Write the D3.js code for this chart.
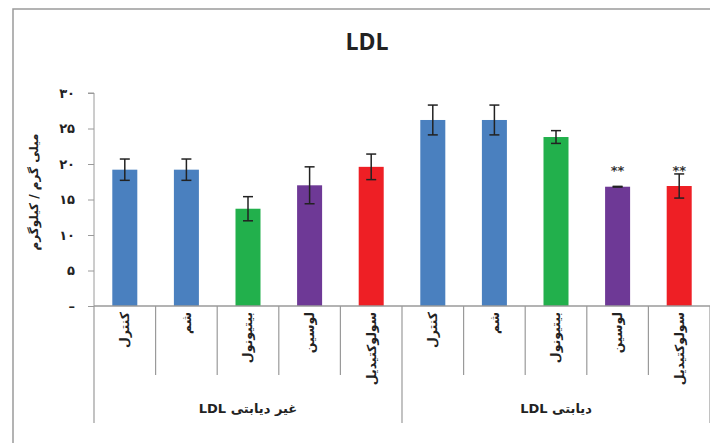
<!DOCTYPE html>
<html>
<head>
<meta charset="utf-8">
<script src="https://cdn.jsdelivr.net/npm/d3@7"></script>
<style>
  body { margin: 0; background: #fff; }
  svg { display: block; }
</style>
</head>
<body>
<div id="chart"></div>
<script>
// data
var categories = ["کنترل", "شم", "بیتیونول", "لوسین", "سولوکتیدیل",
                  "کنترل", "شم", "بیتیونول", "لوسین", "سولوکتیدیل"];
var groups = ["غیر دیابتی LDL", "دیابتی LDL"];
var values = [19.2, 19.2, 13.7, 17.0, 19.6, 26.2, 26.2, 23.8, 16.8, 16.9];
var errors = [1.5, 1.5, 1.7, 2.6, 1.8, 2.1, 2.1, 0.9, 0.05, 1.7];
var stars = ["", "", "", "", "", "", "", "", "**", "**"];
var colors = ["#4a80bf", "#4a80bf", "#22b04c", "#6e3996", "#ee1f25",
              "#4a80bf", "#4a80bf", "#22b04c", "#6e3996", "#ee1f25"];
var yTicks = [0, 5, 10, 15, 20, 25, 30];
var yTickLabels = ["–", "۵", "۱۰", "۱۵", "۲۰", "۲۵", "۳۰"];
var starLevel = 19.4;

var W = 710, H = 443;
var svg = d3.select("#chart").append("svg")
    .attr("width", W).attr("height", H);

// chart frame
svg.append("rect")
    .attr("x", 13).attr("y", 9)
    .attr("width", W).attr("height", H)
    .attr("fill", "none")
    .attr("stroke", "#9a9a9a")
    .attr("stroke-width", 1.5);

var plotLeft = 94, plotRight = 710, plotTop = 93, base = 306;

var x = d3.scaleBand()
    .domain(d3.range(values.length))
    .range([plotLeft, plotRight])
    .paddingInner(0.594)
    .paddingOuter(0.297);

var y = d3.scaleLinear().domain([0, 30]).range([base, plotTop]);

// title
svg.append("text")
    .attr("x", 367).attr("y", 50)
    .attr("text-anchor", "middle")
    .style("font-family", "Open Sans")
    .style("font-weight", "bold")
    .style("font-size", "23px")
    .attr("fill", "#222")
    .text("LDL");

// y axis
var yAxis = svg.append("g")
    .attr("transform", "translate(" + plotLeft + ",0)")
    .call(d3.axisLeft(y).tickValues(yTicks).tickSize(6).tickPadding(13)
        .tickFormat(function(d, i) { return yTickLabels[i]; }));
yAxis.select(".domain").attr("stroke", "#9a9a9a").attr("d", "M-6," + plotTop + "H0V" + base);
yAxis.selectAll(".tick line").attr("stroke", "#9a9a9a");
yAxis.selectAll(".tick text")
    .style("font-family", "DejaVu Sans")
    .style("font-weight", "bold")
    .style("font-size", "13px")
    .attr("fill", "#222");

// y title
svg.append("text")
    .attr("transform", "translate(38,192) rotate(-90)")
    .attr("text-anchor", "middle")
    .style("font-family", "DejaVu Sans")
    .style("font-weight", "bold")
    .style("font-size", "12px")
    .attr("fill", "#222")
    .text("میلی گرم / کیلوگرم");

// bars
svg.selectAll("rect.bar")
    .data(values)
    .enter().append("rect")
    .attr("class", "bar")
    .attr("x", function(d, i) { return x(i); })
    .attr("y", function(d) { return y(d); })
    .attr("width", x.bandwidth())
    .attr("height", function(d) { return base - y(d); })
    .attr("fill", function(d, i) { return colors[i]; });

// error bars
var eb = svg.selectAll("g.err")
    .data(values)
    .enter().append("g")
    .attr("class", "err")
    .attr("stroke", "#222")
    .attr("stroke-width", 1.5);
eb.append("line")
    .attr("x1", function(d, i) { return x(i) + x.bandwidth() / 2; })
    .attr("x2", function(d, i) { return x(i) + x.bandwidth() / 2; })
    .attr("y1", function(d, i) { return y(d + errors[i]); })
    .attr("y2", function(d, i) { return y(d - errors[i]); });
[1, -1].forEach(function(s) {
  eb.append("line")
      .attr("x1", function(d, i) { return x(i) + x.bandwidth() / 2 - 5; })
      .attr("x2", function(d, i) { return x(i) + x.bandwidth() / 2 + 5; })
      .attr("y1", function(d, i) { return y(d + s * errors[i]); })
      .attr("y2", function(d, i) { return y(d + s * errors[i]); });
});

// significance stars
svg.selectAll("text.star")
    .data(stars)
    .enter().append("text")
    .attr("class", "star")
    .attr("x", function(d, i) { return x(i) + x.bandwidth() / 2; })
    .attr("y", y(starLevel))
    .attr("dy", "0.5em")
    .attr("text-anchor", "middle")
    .style("font-family", "DejaVu Sans")
    .style("font-weight", "bold")
    .style("font-size", "13px")
    .attr("fill", "#333")
    .text(function(d) { return d; });

// x axis line
svg.append("line")
    .attr("x1", plotLeft).attr("x2", plotRight)
    .attr("y1", base).attr("y2", base)
    .attr("stroke", "#9a9a9a").attr("stroke-width", 1.5);

// category separators
var step = x.step();
svg.selectAll("line.sep")
    .data(d3.range(values.length + 1))
    .enter().append("line")
    .attr("class", "sep")
    .attr("x1", function(d) { return plotLeft + d * step; })
    .attr("x2", function(d) { return plotLeft + d * step; })
    .attr("y1", base)
    .attr("y2", function(d) { return d % 5 === 0 ? 423 : 375; })
    .attr("stroke", "#9a9a9a").attr("stroke-width", 1.2);

// category labels
svg.selectAll("text.cat")
    .data(categories)
    .enter().append("text")
    .attr("class", "cat")
    .attr("transform", function(d, i) {
      return "translate(" + (x(i) + x.bandwidth() / 2) + ",312) rotate(-90)";
    })
    .attr("dy", "0.35em")
    .attr("text-anchor", "end")
    .style("font-family", "DejaVu Sans")
    .style("font-weight", "bold")
    .style("font-size", "12.5px")
    .attr("fill", "#222")
    .text(function(d) { return d; });

// group labels
svg.selectAll("text.grp")
    .data(groups)
    .enter().append("text")
    .attr("class", "grp")
    .attr("x", function(d, i) { return plotLeft + (i * 5 + 2.5) * step; })
    .attr("y", 413)
    .attr("text-anchor", "middle")
    .attr("direction", "rtl")
    .style("font-family", "DejaVu Sans")
    .style("font-weight", "bold")
    .style("font-size", "13px")
    .attr("fill", "#222")
    .text(function(d) { return d; });
</script>
</body>
</html>
